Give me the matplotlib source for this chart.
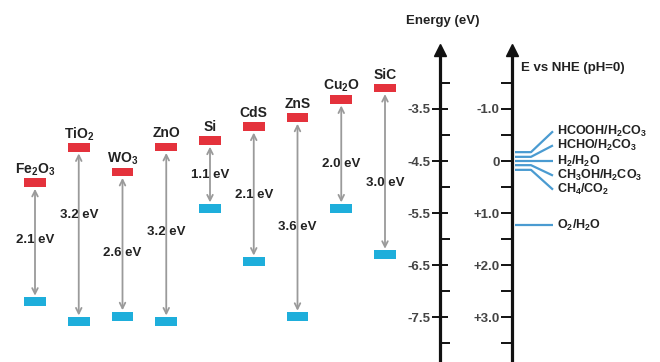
import matplotlib.pyplot as plt
import numpy as np

# band edges (eV vs vacuum)
materials = ['Fe$_2$O$_3$', 'TiO$_2$', 'WO$_3$', 'ZnO', 'Si', 'CdS', 'ZnS', 'Cu$_2$O', 'SiC']
cb_edge = [-4.92, -4.24, -4.71, -4.23, -4.11, -3.84, -3.67, -3.32, -3.10]
vb_edge = [-7.20, -7.58, -7.48, -7.58, -5.41, -6.43, -7.49, -5.41, -6.30]
gap_text = ['2.1 eV', '3.2 eV', '2.6 eV', '3.2 eV', '1.1 eV', '2.1 eV', '3.6 eV', '2.0 eV', '3.0 eV']

# redox potentials (V vs NHE)
redox_names = ['HCOOH/H$_2$CO$_3$', 'HCHO/H$_2$CO$_3$', 'H$_2$/H$_2$O',
               'CH$_3$OH/H$_2$CO$_3$', 'CH$_4$/CO$_2$', 'O$_2$/H$_2$O']
redox_nhe = [-0.17, -0.08, 0.0, 0.08, 0.17, 1.23]

energy_ticks = [-3.5, -4.5, -5.5, -6.5, -7.5]
energy_minor = [-3.0, -4.0, -5.0, -6.0, -7.0, -8.0]
nhe_ticks = [-1.0, 0.0, 1.0, 2.0, 3.0]
nhe_minor = [-1.5, -0.5, 0.5, 1.5, 2.5, 3.5]
nhe_tick_labels = ['-1.0', '0', '+1.0', '+2.0', '+3.0']

# layout stuff
W, H = 660, 362
Y_REF = 161.0   # pixel row of -4.5 eV
PX_EV = 52.1
STEP = 43.75    # pixels between materials
X0 = 35.0
# where the gap label sits between CB and VB (0 = CB, 1 = VB)
gap_frac = [0.48, 0.39, 0.56, 0.49, 0.50, 0.51, 0.55, 0.59, 0.57]
# where the fanned redox labels end up (V vs NHE)
redox_label_pos = [-0.57, -0.30, 0.0, 0.28, 0.55, 1.23]

RED = '#e4323c'
BLUE = '#1eaedb'
TXT = '#222222'
LINE = '#4a9bd1'


def e_at(py):
    return -4.5 - (py - Y_REF) / PX_EV


plt.rcParams['font.family'] = ['Liberation Sans', 'DejaVu Sans']
plt.rcParams['font.weight'] = 'bold'
plt.rcParams['mathtext.fontset'] = 'custom'
plt.rcParams['mathtext.rm'] = 'Liberation Sans:bold'
plt.rcParams['mathtext.it'] = 'Liberation Sans:bold'
plt.rcParams['mathtext.bf'] = 'Liberation Sans:bold'
plt.rcParams['mathtext.default'] = 'rm'

fig = plt.figure(figsize=(W / 100, H / 100), dpi=100)
ax = fig.add_axes([0, 0, 1, 1])
ax.set_xlim(-X0 / STEP, (W - X0) / STEP)
ax.set_ylim(e_at(H), e_at(0))
ax.axis('off')

x = np.arange(len(materials))
cb = np.array(cb_edge)
vb = np.array(vb_edge)
bh = 0.17
ax.bar(x, bh, bottom=cb - bh / 2, width=0.5, color=RED, zorder=3)
ax.bar(x, bh, bottom=vb - bh / 2, width=0.5, color=BLUE, zorder=3)

for i in range(len(materials)):
    ax.annotate('', xy=(i, vb[i] + bh / 2 + 0.03), xytext=(i, cb[i] - bh / 2 - 0.03),
                arrowprops=dict(arrowstyle='<->', color='#9a9a9a', lw=1.3,
                                mutation_scale=10, shrinkA=0, shrinkB=0), zorder=2)
    ax.text(i, cb[i] + 0.26, materials[i], ha='center', va='center',
            fontsize=10, color=TXT)
    gy = cb[i] - gap_frac[i] * (cb[i] - vb[i])
    ax.text(i, gy, gap_text[i], ha='center', va='center', fontsize=9.5, color=TXT)

# energy scale (vacuum)
TOP = 50
axE = fig.add_axes([440 / W, 0, 0.0001, (H - TOP) / H])
axE.set_ylim(e_at(H), e_at(TOP))
axE.set_xlim(0, 1)
axE.patch.set_visible(False)
for s in ['top', 'right', 'bottom']:
    axE.spines[s].set_visible(False)
axE.spines['left'].set_linewidth(2.3)
axE.spines['left'].set_color('#111111')
axE.set_xticks([])
axE.set_yticks(energy_ticks)
axE.set_yticklabels(['%.1f' % v for v in energy_ticks])
axE.set_yticks(energy_minor, minor=True)
axE.tick_params(axis='y', which='major', direction='inout', length=12, width=1.3,
                labelsize=9.5, labelcolor='#444444', pad=1)
axE.tick_params(axis='y', which='minor', direction='in', length=7, width=1.3)
axE.plot(0, e_at(TOP), marker='^', ms=8, color='#111111', clip_on=False)

# NHE scale
axN = fig.add_axes([512 / W, 0, 0.0001, (H - TOP) / H])
axN.set_ylim(-4.5 - e_at(H), -4.5 - e_at(TOP))
axN.set_xlim(0, 1)
axN.patch.set_visible(False)
for s in ['top', 'right', 'bottom']:
    axN.spines[s].set_visible(False)
axN.spines['left'].set_linewidth(2.3)
axN.spines['left'].set_color('#111111')
axN.set_xticks([])
axN.set_yticks(nhe_ticks)
axN.set_yticklabels(nhe_tick_labels)
axN.set_yticks(nhe_minor, minor=True)
axN.tick_params(axis='y', which='both', direction='out', length=8, width=1.3,
                labelsize=9.5, labelcolor='#444444', pad=1)
axN.plot(0, -4.5 - e_at(TOP), marker='^', ms=8, color='#111111', clip_on=False)

# redox levels fanning out to their labels
trans = ax.get_yaxis_transform()
xs = [515 / W, 531 / W, 553 / W]
for name, v, lp in zip(redox_names, redox_nhe, redox_label_pos):
    e = -4.5 - v
    el = -4.5 - lp
    ax.plot(xs, [e, e, el], color=LINE, lw=1.6, transform=trans, solid_capstyle='butt')
    ax.text(557 / W, el, name, transform=trans, ha='left', va='center',
            fontsize=9, color=TXT)

fig.text(443 / W, 1 - 21 / H, 'Energy (eV)', ha='center', va='center',
         fontsize=9.5, color=TXT)
fig.text(521 / W, 1 - 68 / H, 'E vs NHE (pH=0)', ha='left', va='center',
         fontsize=9.5, color=TXT)

fig.savefig('out.png', dpi=100)
